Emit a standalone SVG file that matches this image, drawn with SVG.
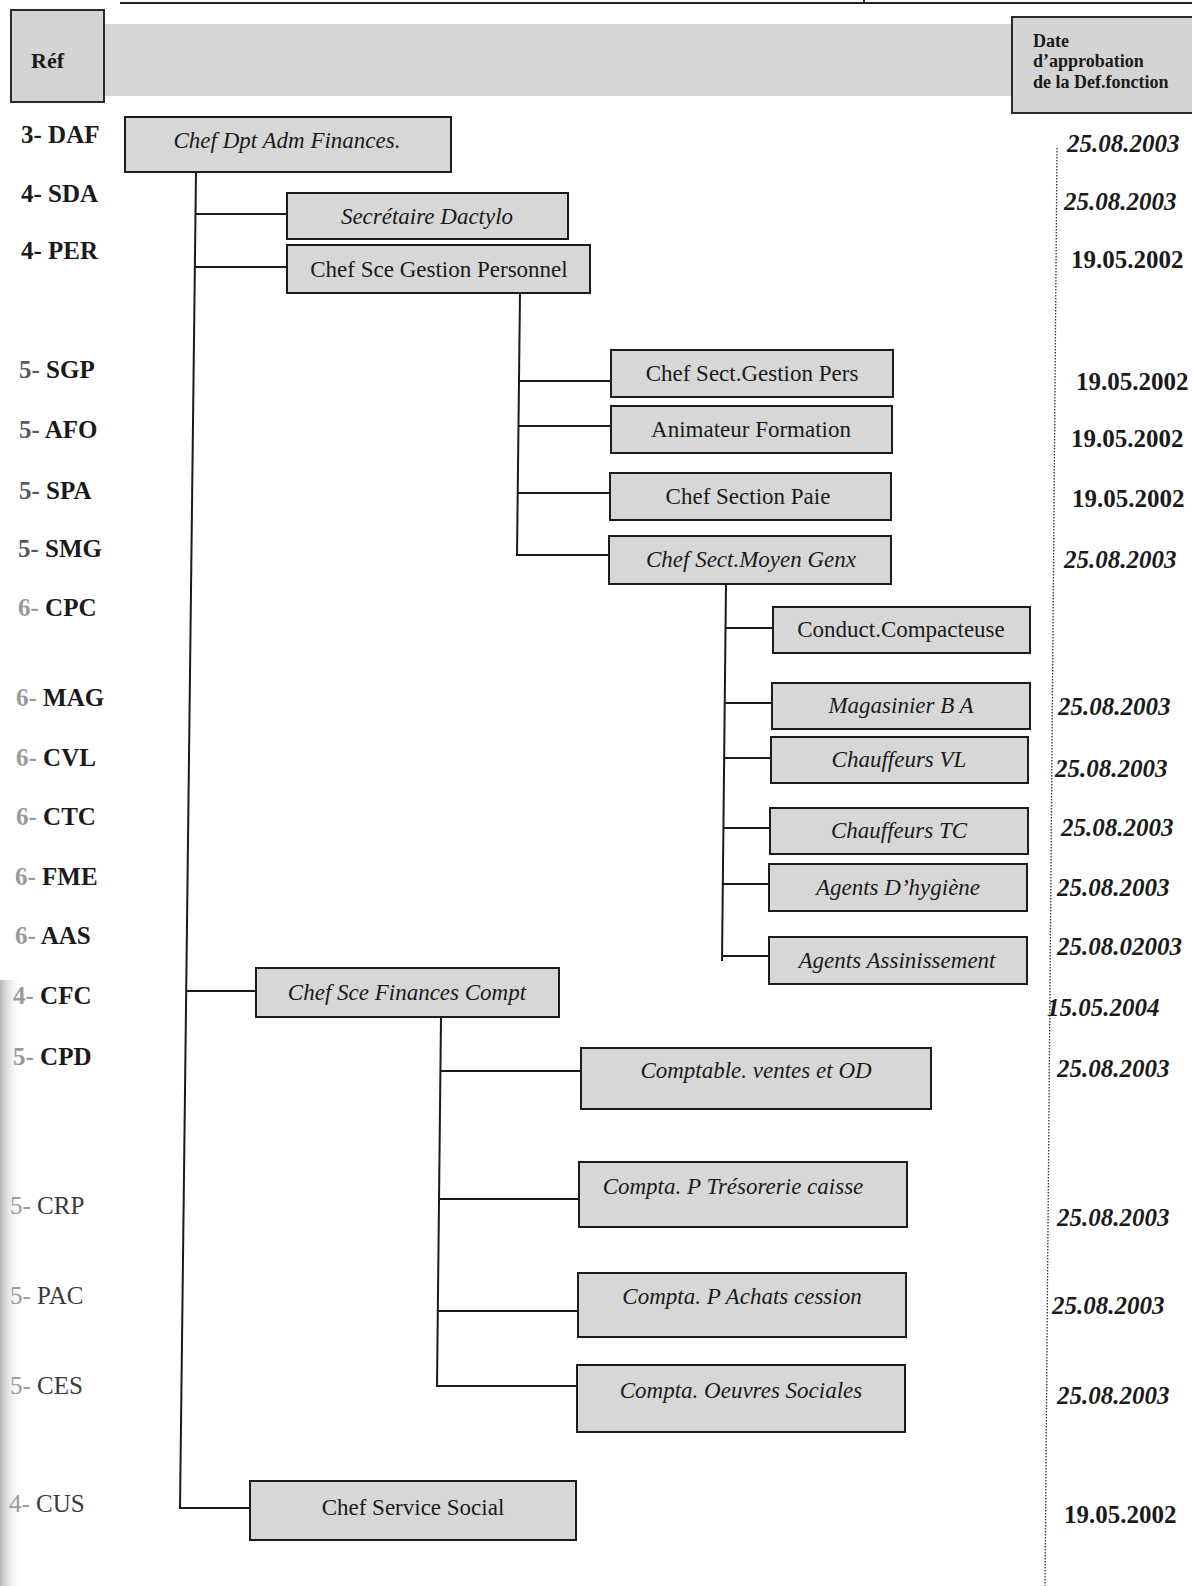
<svg xmlns="http://www.w3.org/2000/svg" width="1192" height="1586" viewBox="0 0 1192 1586">
<defs>
<style>
.bg{fill:#ffffff}
.box{fill:#d7d7d7;stroke:#1c1c1c;stroke-width:2}
.hdr{fill:#d4d4d4;stroke:#2a2a2a;stroke-width:2}
.band{fill:#d5d5d5}
.lbl{font-family:"Liberation Serif","Times New Roman",serif;font-size:23px;fill:#1a1a1a;text-anchor:middle}
.it{font-style:italic}
.ref{font-family:"Liberation Serif","Times New Roman",serif;font-size:25px;font-weight:bold;fill:#1a1a1a}
.refl{font-family:"Liberation Serif","Times New Roman",serif;font-size:25px;fill:#3a3a3a}
.d1{fill:#5a5a5a}
.d2{fill:#9a9a9a}
.date{font-family:"Liberation Serif","Times New Roman",serif;font-size:25px;font-weight:bold;fill:#1a1a1a}
.hd{font-family:"Liberation Serif","Times New Roman",serif;font-size:18px;font-weight:bold;fill:#1a1a1a}
.conn line{stroke:#1a1a1a;stroke-width:2;fill:none}
.dot{stroke:#333;stroke-width:1.3;stroke-dasharray:1.5 1.5;fill:none}
</style>
<linearGradient id="edge" x1="0" y1="0" x2="1" y2="0">
<stop offset="0" stop-color="#b8b8b8"/>
<stop offset="1" stop-color="#ffffff" stop-opacity="0"/>
</linearGradient>
</defs>
<rect class="bg" x="0" y="0" width="1192" height="1586"/>
<rect x="0" y="980" width="22" height="606" fill="url(#edge)"/>
<line x1="120" y1="3" x2="1192" y2="3" stroke="#222" stroke-width="2"/>
<line x1="864" y1="0" x2="864" y2="4" stroke="#222" stroke-width="2"/>

<g id="header">
<rect class="band" x="104" y="24" width="908" height="72"/>
<rect class="hdr" x="11" y="10" width="93" height="92"/>
<text class="ref" x="31" y="68" style="font-size:22px">Réf</text>
<rect class="hdr" x="1012" y="17" width="200" height="96"/>
<text class="hd" x="1033" y="47">Date</text>
<text class="hd" x="1033" y="67">d’approbation</text>
<text class="hd" x="1033" y="88">de la Def.fonction</text>
</g>

<g id="refs">
<text class="ref" x="21" y="143">3- DAF</text>
<text class="ref" x="21" y="202">4- SDA</text>
<text class="ref" x="21" y="259">4- PER</text>
<text class="ref" x="19" y="378"><tspan class="d1">5-</tspan> SGP</text>
<text class="ref" x="19" y="438"><tspan class="d1">5-</tspan> AFO</text>
<text class="ref" x="19" y="499"><tspan class="d1">5-</tspan> SPA</text>
<text class="ref" x="18" y="557"><tspan class="d1">5-</tspan> SMG</text>
<text class="ref" x="18" y="616"><tspan class="d2">6-</tspan> CPC</text>
<text class="ref" x="16" y="706"><tspan class="d2">6-</tspan> MAG</text>
<text class="ref" x="16" y="766"><tspan class="d2">6-</tspan> CVL</text>
<text class="ref" x="16" y="825"><tspan class="d2">6-</tspan> CTC</text>
<text class="ref" x="15" y="885"><tspan class="d2">6-</tspan> FME</text>
<text class="ref" x="15" y="944"><tspan class="d2">6-</tspan> AAS</text>
<text class="ref" x="13" y="1004"><tspan class="d2">4-</tspan> CFC</text>
<text class="ref" x="13" y="1065"><tspan class="d2">5-</tspan> CPD</text>
<text class="refl" x="10" y="1214"><tspan class="d2">5-</tspan> CRP</text>
<text class="refl" x="10" y="1304"><tspan class="d2">5-</tspan> PAC</text>
<text class="refl" x="10" y="1394"><tspan class="d2">5-</tspan> CES</text>
<text class="refl" x="9" y="1512"><tspan class="d2">4-</tspan> CUS</text>
</g>

<g id="dates">
<line class="dot" x1="1057" y1="148" x2="1045" y2="1586"/>
<text class="date it" x="1067" y="152">25.08.2003</text>
<text class="date it" x="1064" y="210">25.08.2003</text>
<text class="date" x="1071" y="268">19.05.2002</text>
<text class="date" x="1076" y="390">19.05.2002</text>
<text class="date" x="1071" y="447">19.05.2002</text>
<text class="date" x="1072" y="507">19.05.2002</text>
<text class="date it" x="1064" y="568">25.08.2003</text>
<text class="date it" x="1058" y="715">25.08.2003</text>
<text class="date it" x="1055" y="777">25.08.2003</text>
<text class="date it" x="1061" y="836">25.08.2003</text>
<text class="date it" x="1057" y="896">25.08.2003</text>
<text class="date it" x="1057" y="955">25.08.02003</text>
<text class="date it" x="1047" y="1016">15.05.2004</text>
<text class="date it" x="1057" y="1077">25.08.2003</text>
<text class="date it" x="1057" y="1226">25.08.2003</text>
<text class="date it" x="1052" y="1314">25.08.2003</text>
<text class="date it" x="1057" y="1404">25.08.2003</text>
<text class="date" x="1064" y="1523">19.05.2002</text>
</g>

<g id="connectors" class="conn">
<line x1="196" y1="172" x2="180" y2="1509"/>
<line x1="195.5" y1="214" x2="287" y2="214"/>
<line x1="195" y1="267" x2="287" y2="267"/>
<line x1="186" y1="991" x2="256" y2="991"/>
<line x1="180" y1="1508" x2="250" y2="1508"/>
<line x1="520" y1="293" x2="517" y2="556"/>
<line x1="519" y1="381" x2="611" y2="381"/>
<line x1="518.5" y1="426" x2="611" y2="426"/>
<line x1="518" y1="493" x2="610" y2="493"/>
<line x1="517" y1="555" x2="609" y2="555"/>
<line x1="726" y1="584" x2="722" y2="961"/>
<line x1="725.5" y1="628" x2="773" y2="628"/>
<line x1="724.7" y1="703" x2="772" y2="703"/>
<line x1="724.1" y1="758" x2="771" y2="758"/>
<line x1="723.4" y1="828" x2="770" y2="828"/>
<line x1="722.8" y1="884" x2="769" y2="884"/>
<line x1="722" y1="956" x2="769" y2="956"/>
<line x1="441" y1="1017" x2="437" y2="1387"/>
<line x1="440.4" y1="1071" x2="581" y2="1071"/>
<line x1="439" y1="1199" x2="579" y2="1199"/>
<line x1="437.8" y1="1311" x2="578" y2="1311"/>
<line x1="437" y1="1386" x2="577" y2="1386"/>
</g>

<g id="n-DAF"><rect class="box" x="125" y="117" width="326" height="55"/><text class="lbl it" x="287" y="148">Chef Dpt Adm Finances.</text></g>
<g id="n-SDA"><rect class="box" x="287" y="193" width="281" height="46"/><text class="lbl it" x="427" y="224">Secrétaire Dactylo</text></g>
<g id="n-PER"><rect class="box" x="287" y="245" width="303" height="48"/><text class="lbl" x="439" y="277">Chef Sce Gestion Personnel</text></g>
<g id="n-SGP"><rect class="box" x="611" y="350" width="282" height="47"/><text class="lbl" x="752" y="381">Chef Sect.Gestion Pers</text></g>
<g id="n-AFO"><rect class="box" x="611" y="406" width="281" height="47"/><text class="lbl" x="751" y="437">Animateur Formation</text></g>
<g id="n-SPA"><rect class="box" x="610" y="473" width="281" height="47"/><text class="lbl" x="748" y="504">Chef Section Paie</text></g>
<g id="n-SMG"><rect class="box" x="609" y="536" width="282" height="48"/><text class="lbl it" x="751" y="567">Chef Sect.Moyen Genx</text></g>
<g id="n-CPC"><rect class="box" x="773" y="607" width="257" height="46"/><text class="lbl" x="901" y="637">Conduct.Compacteuse</text></g>
<g id="n-MAG"><rect class="box" x="772" y="683" width="258" height="46"/><text class="lbl it" x="901" y="713">Magasinier B A</text></g>
<g id="n-CVL"><rect class="box" x="771" y="737" width="257" height="46"/><text class="lbl it" x="899" y="767">Chauffeurs VL</text></g>
<g id="n-CTC"><rect class="box" x="770" y="808" width="258" height="46"/><text class="lbl it" x="899" y="838">Chauffeurs TC</text></g>
<g id="n-FME"><rect class="box" x="769" y="864" width="258" height="47"/><text class="lbl it" x="898" y="895">Agents D’hygiène</text></g>
<g id="n-AAS"><rect class="box" x="769" y="937" width="258" height="47"/><text class="lbl it" x="897" y="968">Agents Assinissement</text></g>
<g id="n-CFC"><rect class="box" x="256" y="968" width="303" height="49"/><text class="lbl it" x="407" y="1000">Chef Sce Finances Compt</text></g>
<g id="n-CPD"><rect class="box" x="581" y="1048" width="350" height="61"/><text class="lbl it" x="756" y="1078">Comptable.  ventes et OD</text></g>
<g id="n-CRP"><rect class="box" x="579" y="1162" width="328" height="65"/><text class="lbl it" x="733" y="1194">Compta. P Trésorerie caisse</text></g>
<g id="n-PAC"><rect class="box" x="578" y="1273" width="328" height="64"/><text class="lbl it" x="742" y="1304">Compta. P Achats cession</text></g>
<g id="n-CES"><rect class="box" x="577" y="1365" width="328" height="67"/><text class="lbl it" x="741" y="1398">Compta. Oeuvres Sociales</text></g>
<g id="n-CUS"><rect class="box" x="250" y="1481" width="326" height="59"/><text class="lbl" x="413" y="1515">Chef Service Social</text></g>
</svg>
